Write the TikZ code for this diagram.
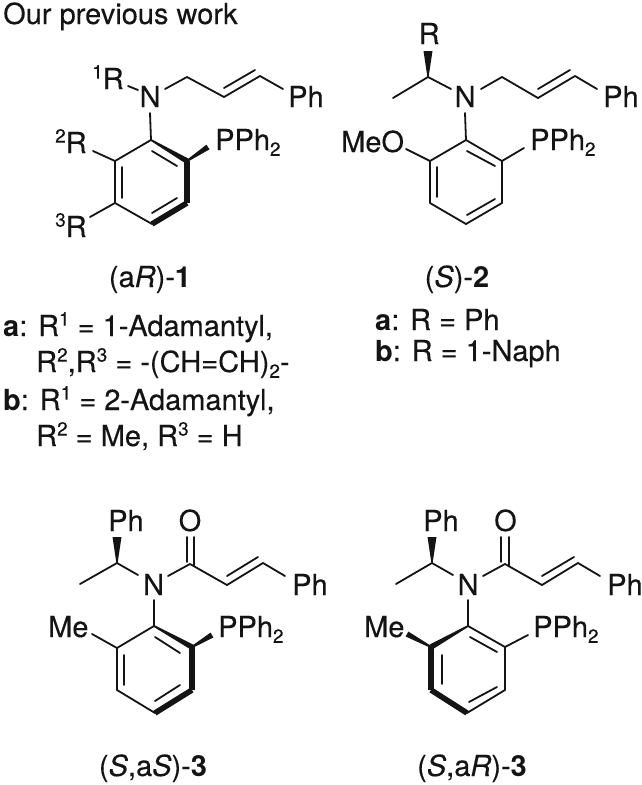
\documentclass[tikz,border=0pt]{standalone}
\usepackage{fontspec}
\setmainfont{TeX Gyre Heros}[UprightFeatures={FakeBold=0.25},ItalicFeatures={FakeBold=0.25}]
\usetikzlibrary{calc}
\definecolor{ink}{RGB}{20,20,20}
\newcommand{\sups}[1]{\raisebox{.36em}{\fontsize{19}{19}\selectfont #1}}
\newcommand{\subs}[1]{\raisebox{-.2em}{\fontsize{19}{19}\selectfont #1}}
\newcommand{\taper}[4]{\fill[ink] ($(#1)!#3pt!90:(#2)$) -- ($(#2)!#4pt!-90:(#1)$) -- ($(#2)!#4pt!90:(#1)$) -- ($(#1)!#3pt!-90:(#2)$) -- cycle;}
\tikzset{
  atom/.style={inner sep=0pt,anchor=base west,text=ink,font=\fontsize{29}{34}\selectfont},
  lab/.style={inner sep=0pt,anchor=base,text=ink,font=\fontsize{29}{34}\selectfont},
  legend/.style={inner sep=0pt,anchor=base west,text=ink,font=\fontsize{29}{34}\selectfont},
  bond/.style={draw=ink,line width=1.8pt,line cap=round,line join=round}
}
\begin{document}
\begin{tikzpicture}[x=1pt,y=-1pt]
\useasboundingbox (0,0) rectangle (642,785);
\fill[white] (0,0) rectangle (642,785);

\node[atom] (title) at (3,24) {Our previous work};

% ---------- compound 1
\coordinate (a1) at (151,140); \coordinate (a2) at (115,161); \coordinate (a3) at (115,203);
\coordinate (a4) at (152,224); \coordinate (a5) at (187,203); \coordinate (a6) at (187,161);
\coordinate (ai1) at (152,151); \coordinate (ai2) at (177,166);
\coordinate (ai3) at (122,167); \coordinate (ai4) at (122,198);
\coordinate (ai5) at (152,213); \coordinate (ai6) at (177,198);
\coordinate (an1) at (150,113); \coordinate (ar1) at (128,86); \coordinate (ar2) at (138,90);
\coordinate (an2) at (165,89); \coordinate (ac1) at (187,77); \coordinate (ac2) at (224,97);
\coordinate (ac3) at (260,76); \coordinate (ac4) at (224,88); \coordinate (ac5) at (255,70);
\coordinate (ac6) at (283,89); \coordinate (arb2) at (93,151); \coordinate (arb3) at (90,217);
\coordinate (ap) at (208,147);
\node[atom] (aN) at (139.5,107) {N};
\node[atom] (aR1) at (92,89) {\sups{1}R};
\node[atom] (aPh) at (288,107) {Ph};
\node[atom] (aR2) at (55,153) {\sups{2}R};
\node[atom] (aR3) at (55,237) {\sups{3}R};
\node[atom] (aP) at (215,150) {PPh\subs{2}};
\node[lab] (alab) at (150,287) {(a\textit{R})-\textbf{1}};
\draw[bond] (ar1)--(ar2) (an1)--(a1) (an2)--(ac1)--(ac2)--(ac3)--(ac6) (ac4)--(ac5);
\draw[bond] (a1)--(a2)--(a3)--(a4) (arb2)--(a2) (arb3)--(a3);
\draw[bond] (ai1)--(ai2) (ai3)--(ai4) (ai5)--(ai6);
\taper{a1}{a6}{.9}{2.8}
\taper{a6}{a5}{2.8}{2.8}
\taper{a5}{a4}{2.8}{2.8}
\taper{a6}{ap}{1}{2.8}

% legend left
\node[legend] (la1) at (3,336) {\textbf{a}: R\sups{1} = 1-Adamantyl,};
\node[legend] (la2) at (36,372) {R\sups{2},R\sups{3} = -(CH=CH)\subs{2}-};
\node[legend] (la3) at (3,410) {\textbf{b}: R\sups{1} = 2-Adamantyl,};
\node[legend] (la4) at (36,446) {R\sups{2} = Me, R\sups{3} = H};

% ---------- compound 2
\coordinate (b1) at (466,140); \coordinate (b2) at (430,161); \coordinate (b3) at (430,203);
\coordinate (b4) at (466,224); \coordinate (b5) at (502,203); \coordinate (b6) at (502,161);
\coordinate (bi1) at (467,151); \coordinate (bi2) at (495,166);
\coordinate (bi3) at (437,167); \coordinate (bi4) at (437,197);
\coordinate (bi5) at (467,215); \coordinate (bi6) at (495,199);
\coordinate (bn1) at (465,113); \coordinate (bs) at (428,77); \coordinate (bme) at (393,98);
\coordinate (bn0) at (451,89); \coordinate (bn2) at (481,89); \coordinate (bc1) at (502,77);
\coordinate (bc2) at (538,98); \coordinate (bc3) at (575,76); \coordinate (bc4) at (538,89);
\coordinate (bc5) at (570,70); \coordinate (bc6) at (597,89); \coordinate (bw) at (428,51);
\coordinate (bo) at (406,149); \coordinate (bp) at (524,148);
\node[atom] (bN) at (454.5,107) {N};
\node[atom] (bR) at (418.5,44) {R};
\node[atom] (bPh) at (603,107) {Ph};
\node[atom] (bMeO) at (341,152) {MeO};
\node[atom] (bP) at (530,150) {PPh\subs{2}};
\node[lab] (blab) at (457,287) {(\textit{S})-\textbf{2}};
\draw[bond] (bn1)--(b1) (bme)--(bs)--(bn0) (bn2)--(bc1)--(bc2)--(bc3)--(bc6) (bc4)--(bc5);
\draw[bond] (b1)--(b2)--(b3)--(b4)--(b5)--(b6)--(b1) (bo)--(b2) (bp)--(b6);
\draw[bond] (bi1)--(bi2) (bi3)--(bi4) (bi5)--(bi6);
\taper{bs}{bw}{.6}{4.5}
\node[legend] (lb1) at (375,330) {\textbf{a}: R = Ph};
\node[legend] (lb2) at (375,361) {\textbf{b}: R = 1-Naph};

% ---------- compound 3 (S,aS)
\coordinate (c1) at (154,626); \coordinate (c2) at (117,648); \coordinate (c3) at (117,690);
\coordinate (c4) at (155,713); \coordinate (c5) at (192,690); \coordinate (c6) at (192,647);
\coordinate (ci1) at (155,637); \coordinate (ci2) at (180,653);
\coordinate (ci3) at (124,655); \coordinate (ci4) at (124,685);
\coordinate (ci5) at (155,701); \coordinate (ci6) at (180,685);
\coordinate (cn1) at (154,600); \coordinate (cs) at (117,563); \coordinate (cme) at (80,584);
\coordinate (cn0) at (138,575); \coordinate (cw) at (117,537);
\coordinate (cn2) at (168,576); \coordinate (cco) at (190,564);
\coordinate (co1) at (187,537); \coordinate (co2) at (194,537);
\coordinate (co3) at (187,562); \coordinate (co4) at (194,566);
\coordinate (cc2) at (227,585); \coordinate (cc3) at (263,563); \coordinate (cc4) at (227,576);
\coordinate (cc5) at (258,557); \coordinate (cc6) at (285,576);
\coordinate (cm) at (92,634); \coordinate (cp) at (212,635);
\node[atom] (cN) at (143,595) {N};
\node[atom] (cPhs) at (108,531) {Ph};
\node[atom] (cO) at (178.5,531) {O};
\node[atom] (cPh) at (292,595) {Ph};
\node[atom] (cMe) at (48,637) {Me};
\node[atom] (cP) at (218,637) {PPh\subs{2}};
\node[lab] (clab) at (153,776) {(\textit{S},a\textit{S})-\textbf{3}};
\draw[bond] (cn1)--(c1) (cme)--(cs)--(cn0) (cn2)--(cco)--(cc2)--(cc3)--(cc6) (cc4)--(cc5);
\draw[bond] (co1)--(co3) (co2)--(co4);
\draw[bond] (c1)--(c2)--(c3)--(c4) (cm)--(c2);
\draw[bond] (ci1)--(ci2) (ci3)--(ci4) (ci5)--(ci6);
\taper{cs}{cw}{.6}{4.5}
\taper{c1}{c6}{.9}{2.8}
\taper{c6}{c5}{2.8}{2.8}
\taper{c5}{c4}{2.8}{2.8}
\taper{c6}{cp}{1}{2.8}

% ---------- compound 3 (S,aR)
\coordinate (d1) at (468,626); \coordinate (d2) at (431,647); \coordinate (d3) at (431,690);
\coordinate (d4) at (467,713); \coordinate (d5) at (505,690); \coordinate (d6) at (505,647);
\coordinate (di1) at (470,637); \coordinate (di2) at (497,652);
\coordinate (di3) at (442,655); \coordinate (di4) at (442,684);
\coordinate (di5) at (469,702); \coordinate (di6) at (497,687);
\coordinate (dn1) at (468,600); \coordinate (ds) at (432,563); \coordinate (dme) at (396,584);
\coordinate (dn0) at (453,575); \coordinate (dw) at (432,537);
\coordinate (dn2) at (483,576); \coordinate (dco) at (505,564);
\coordinate (do1) at (501,537); \coordinate (do2) at (509,537);
\coordinate (do3) at (501,562); \coordinate (do4) at (509,566);
\coordinate (dc2) at (542,585); \coordinate (dc3) at (578,563); \coordinate (dc4) at (542,576);
\coordinate (dc5) at (574,557); \coordinate (dc6) at (600,576);
\coordinate (dm) at (407,634); \coordinate (dp) at (528,635);
\node[atom] (dN) at (457.5,595) {N};
\node[atom] (dPhs) at (423,531) {Ph};
\node[atom] (dO) at (494,531) {O};
\node[atom] (dPh) at (607,595) {Ph};
\node[atom] (dMe) at (364,637) {Me};
\node[atom] (dP) at (533,637) {PPh\subs{2}};
\node[lab] (dlab) at (472,776) {(\textit{S},a\textit{R})-\textbf{3}};
\draw[bond] (dn1)--(d1) (dme)--(ds)--(dn0) (dn2)--(dco)--(dc2)--(dc3)--(dc6) (dc4)--(dc5);
\draw[bond] (do1)--(do3) (do2)--(do4);
\draw[bond] (d1)--(d6)--(d5)--(d4) (dp)--(d6);
\draw[bond] (di1)--(di2) (di3)--(di4) (di5)--(di6);
\taper{ds}{dw}{.6}{4.5}
\taper{d1}{d2}{.9}{2.8}
\taper{d2}{d3}{2.8}{2.8}
\taper{d3}{d4}{2.8}{2.8}
\taper{d2}{dm}{1}{2.8}
\end{tikzpicture}
\end{document}
